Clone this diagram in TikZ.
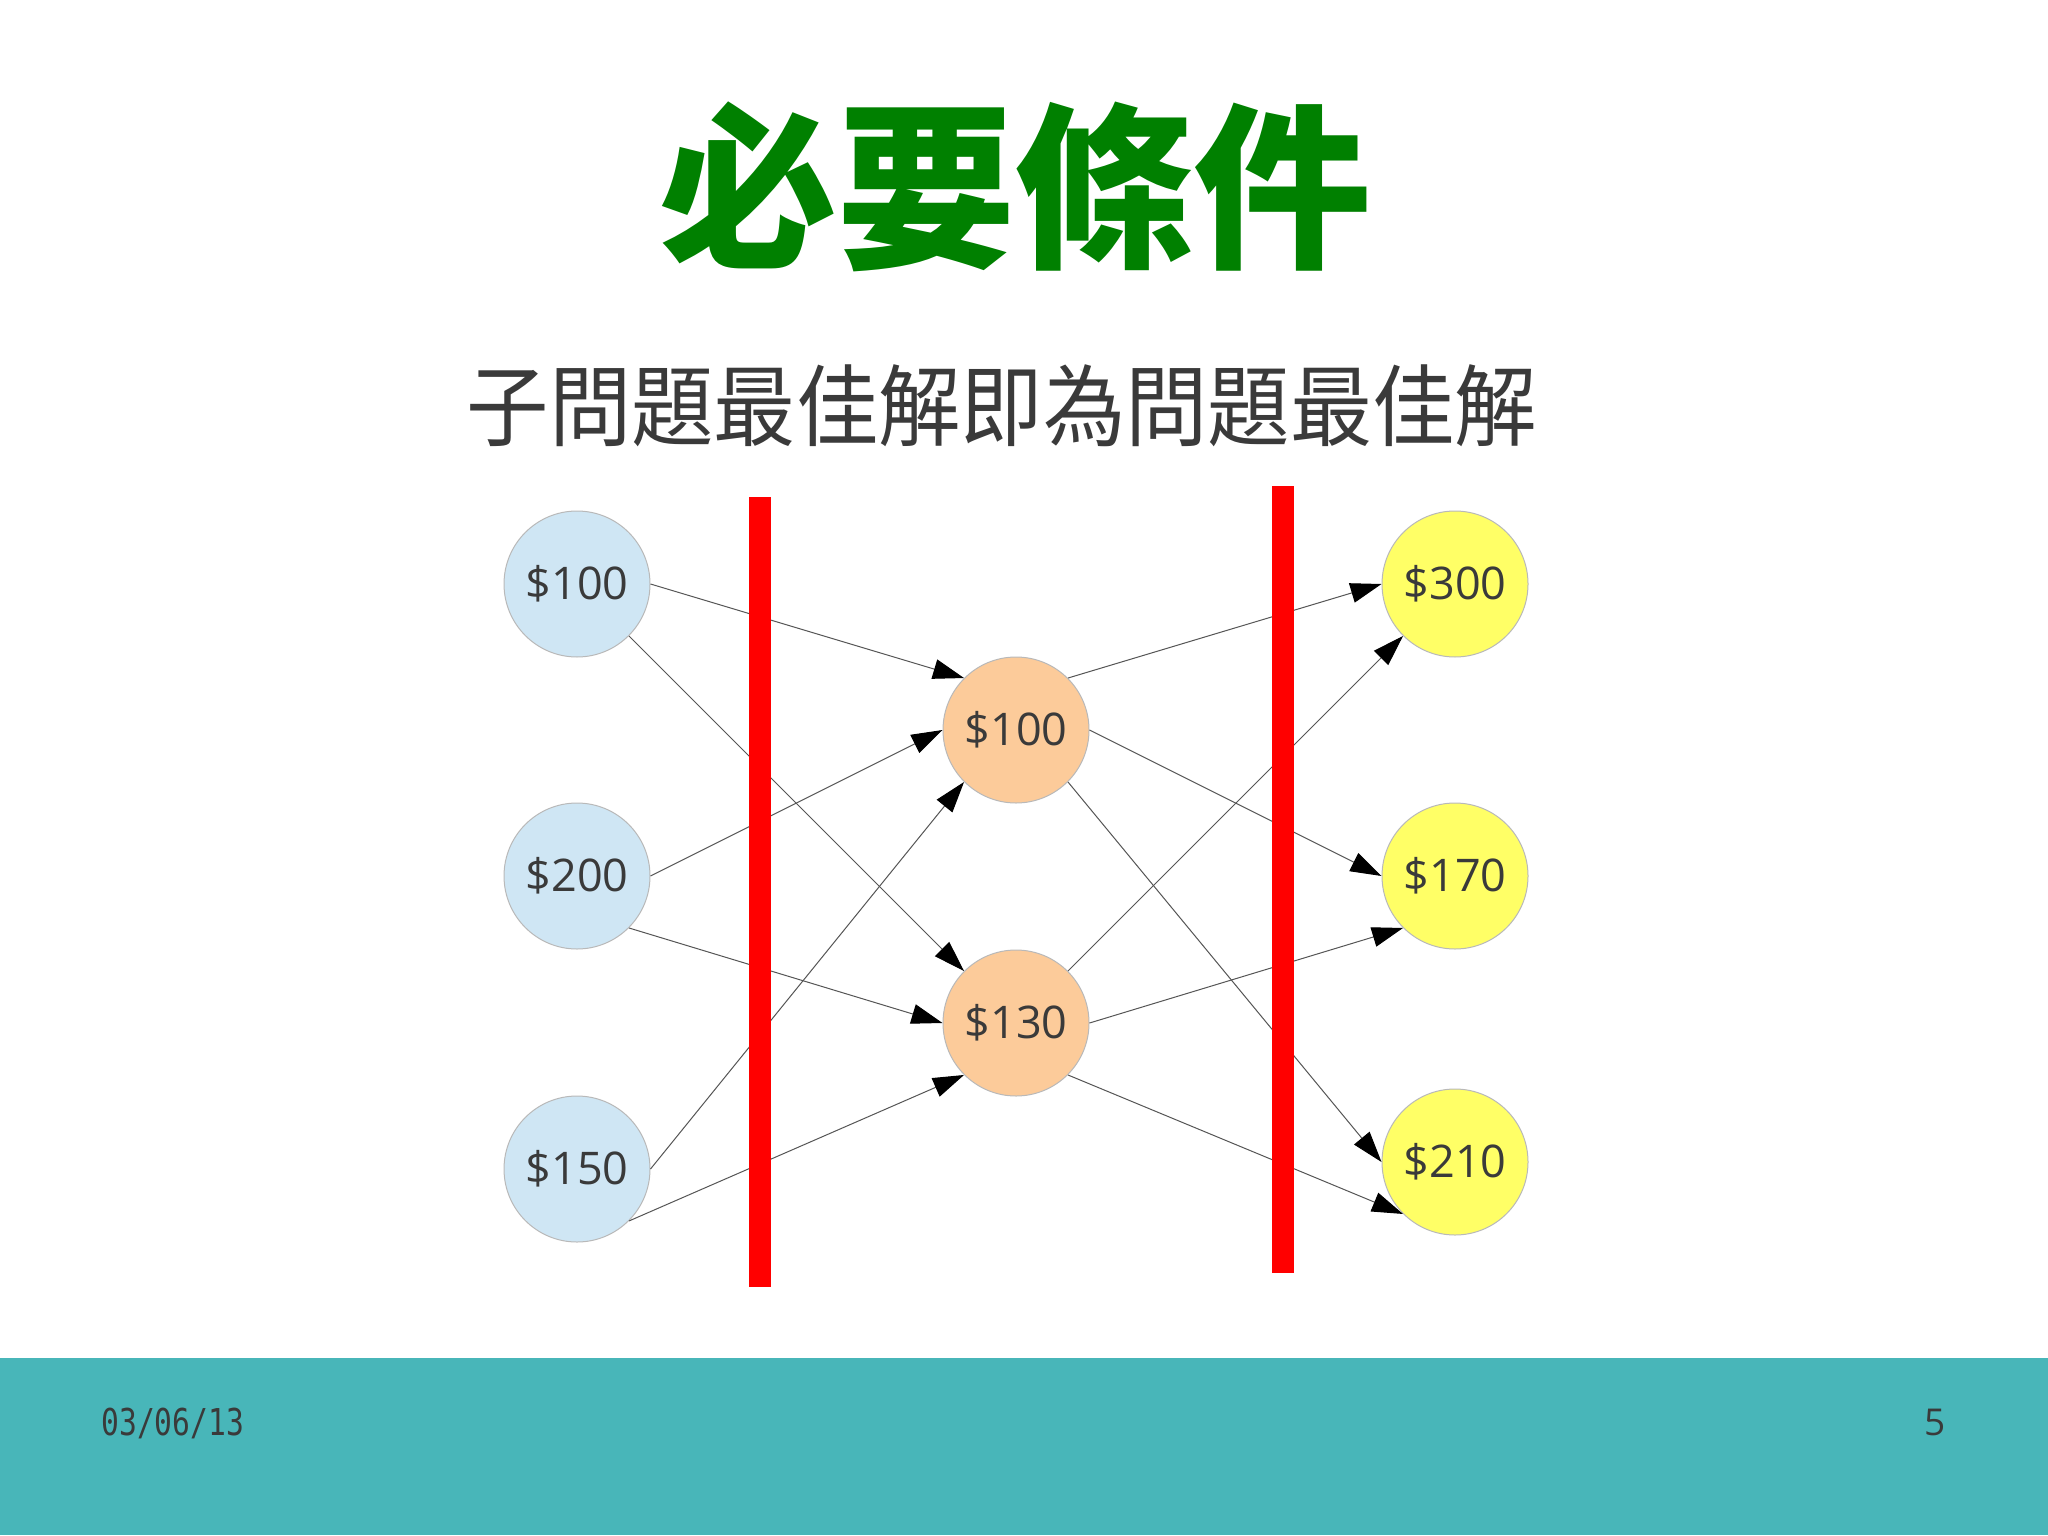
\documentclass[tikz,border=0pt]{standalone}
\usepackage{fontspec}
\usepackage{xcolor}
\usetikzlibrary{arrows.meta}
\setmainfont{Open Sans}
\newfontfamily\cjk{Noto Sans CJK TC}
\newfontfamily\cjknarrow[FakeStretch=0.925]{Noto Sans CJK TC}
\newfontfamily\footfont[FakeStretch=0.8]{DejaVu Sans Mono}
\definecolor{titlegreen}{HTML}{008000}
\definecolor{textgray}{HTML}{3A3A3A}
\definecolor{srcblue}{HTML}{CFE6F4}
\definecolor{midorange}{HTML}{FCCB9A}
\definecolor{dstyellow}{HTML}{FFFF66}
\definecolor{linegray}{HTML}{555555}
\definecolor{footteal}{HTML}{48B6B9}

\begin{document}
\begin{tikzpicture}[x=0.5pt, y=-0.5pt,
        coin/.style = {draw=gray!55,
            line width=0.5pt,
            circle,
            minimum size=73pt,
            inner sep=0pt,
            text=textgray,
            font=\fontsize{22.5}{22.5}\selectfont},
        lset/.style = {coin, fill=srcblue},
        mset/.style = {coin, fill=midorange},
        rset/.style = {coin, fill=dstyellow},
        link/.style = {draw=linegray, line width=0.5pt,
            -{Triangle[length=15.5pt, width=10pt, color=black]}},
        cut/.style = {draw=red, line width=11pt}]

    % page and footer band
    \useasboundingbox (0,0) rectangle (2048,1535);
    \fill[white] (0,0) rectangle (2048,1535);
    \fill[footteal] (0,1358) rectangle (2048,1535);

    % headings
    \node[anchor=base, inner sep=0pt, text=titlegreen,
        font=\cjk\bfseries\fontsize{89}{89}\selectfont] (title) at (1015,255) {必要條件};
    \node[anchor=base, inner sep=0pt, text=textgray,
        font=\cjknarrow\fontsize{44.5}{44.5}\selectfont] (subtitle) at (1002,439) {子問題最佳解即為問題最佳解};

    % first column
    \node[lset] (l1) at (577,584) {\$100};
    \node[lset] (l2) at (577,876) {\$200};
    \node[lset] (l3) at (577,1169) {\$150};

    % second column
    \node[mset] (m1) at (1016,730) {\$100};
    \node[mset] (m2) at (1016,1023) {\$130};

    % third column
    \node[rset] (r1) at (1455,584) {\$300};
    \node[rset] (r2) at (1455,876) {\$170};
    \node[rset] (r3) at (1455,1162) {\$210};

    % first stage
    \draw[link] (l1.east) -- (m1.north west);
    \draw[link] (l1.south east) -- (m2.north west);
    \draw[link] (l2.east) -- (m1.west);
    \draw[link] (l2.south east) -- (m2.west);
    \draw[link] (l3.east) -- (m1.south west);
    \draw[link] (l3.south east) -- (m2.south west);

    % second stage
    \draw[link] (m1.north east) -- (r1.west);
    \draw[link] (m1.east) -- (r2.west);
    \draw[link] (m1.south east) -- (r3.west);
    \draw[link] (m2.north east) -- (r1.south west);
    \draw[link] (m2.east) -- (r2.south west);
    \draw[link] (m2.south east) -- (r3.south west);

    % cuts
    \draw[cut] (760,497) -- (760,1287);
    \draw[cut] (1283,486) -- (1283,1273);

    % footer
    \node[anchor=base west, inner sep=0pt, text=textgray,
        font=\footfont\fontsize{18.5}{18.5}\selectfont] (date) at (101,1435) {03/06/13};
    \node[anchor=base, inner sep=0pt, text=textgray,
        font=\fontsize{18.5}{18.5}\selectfont] (page) at (1935,1435) {5};
\end{tikzpicture}
\end{document}
